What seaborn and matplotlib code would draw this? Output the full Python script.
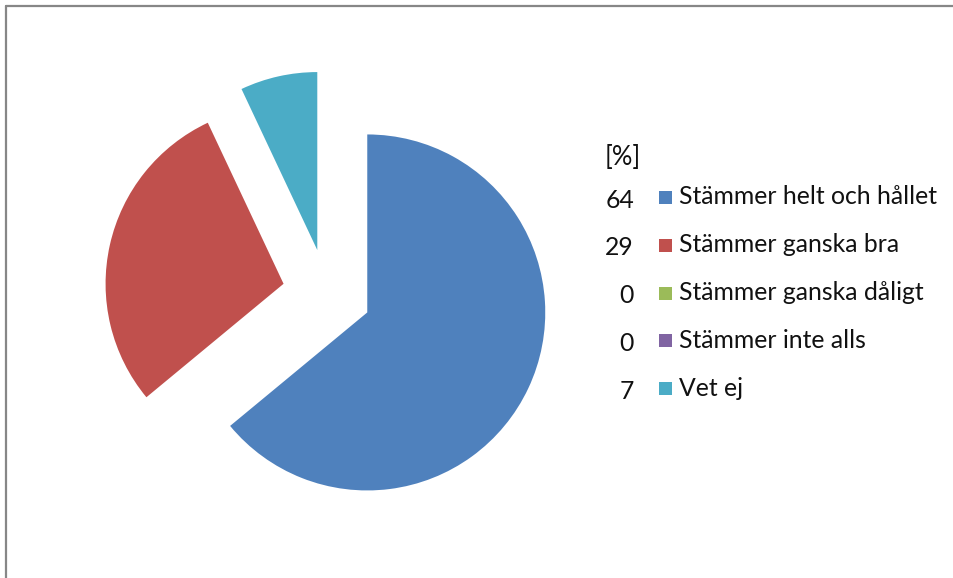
import numpy as np
import matplotlib
matplotlib.use("Agg")
import matplotlib.pyplot as plt
import seaborn as sns
from matplotlib.patches import Rectangle
from matplotlib.lines import Line2D

sns.set_theme(style="white")
plt.rcParams['font.family'] = ['Lato', 'DejaVu Sans']

# survey answers, percent
labels = ['Stämmer helt och hållet', 'Stämmer ganska bra', 'Stämmer ganska dåligt',
          'Stämmer inte alls', 'Vet ej']
values = [64, 29, 0, 0, 7]
colors = ['#4F81BD', '#C0504D', '#9BBB59', '#8064A2', '#4BACC6']

W, H = 954, 578
fig = plt.figure(figsize=(W / 100, H / 100), dpi=100)
ax = fig.add_axes([0, 0, 1, 1])

# pie centre and radius in pixels
cx, cy, r = 327, 293.5, 178
ax.pie(values, colors=colors, startangle=90, counterclock=False,
       explode=[0.25] * len(values), wedgeprops=dict(linewidth=0))
ax.set_aspect('auto')
ax.set_xlim(-cx / r, (W - cx) / r)
ax.set_ylim(-(H - cy) / r, cy / r)
ax.axis('off')

# frame (top and left edges visible)
fig.add_artist(Line2D([6.5 / W, 6.5 / W], [0, 1 - 5.5 / H], color='#878787', lw=1.6))
fig.add_artist(Line2D([6.5 / W, 1], [1 - 5.5 / H, 1 - 5.5 / H], color='#878787', lw=1.6))

# legend with values
fs = 17.8
fig.text(623 / W, 1 - 157 / H, '[%]', ha='center', va='center', fontsize=fs + 0.6, color='#111111')
y0, dy = 197, 47.8
for i, (lab, v, c) in enumerate(zip(labels, values, colors)):
    y = y0 + i * dy
    fig.text(634 / W, 1 - (y + 3) / H, str(v), ha='right', va='center', fontsize=fs, color='#111111')
    fig.add_artist(Rectangle((659 / W, 1 - (y + 7) / H), 13 / W, 13 / H,
                             transform=fig.transFigure, color=c, lw=0))
    fig.text(679 / W, 1 - y / H, lab, ha='left', va='center', fontsize=fs, color='#111111')

fig.savefig('out.png', dpi=100, facecolor='white')
